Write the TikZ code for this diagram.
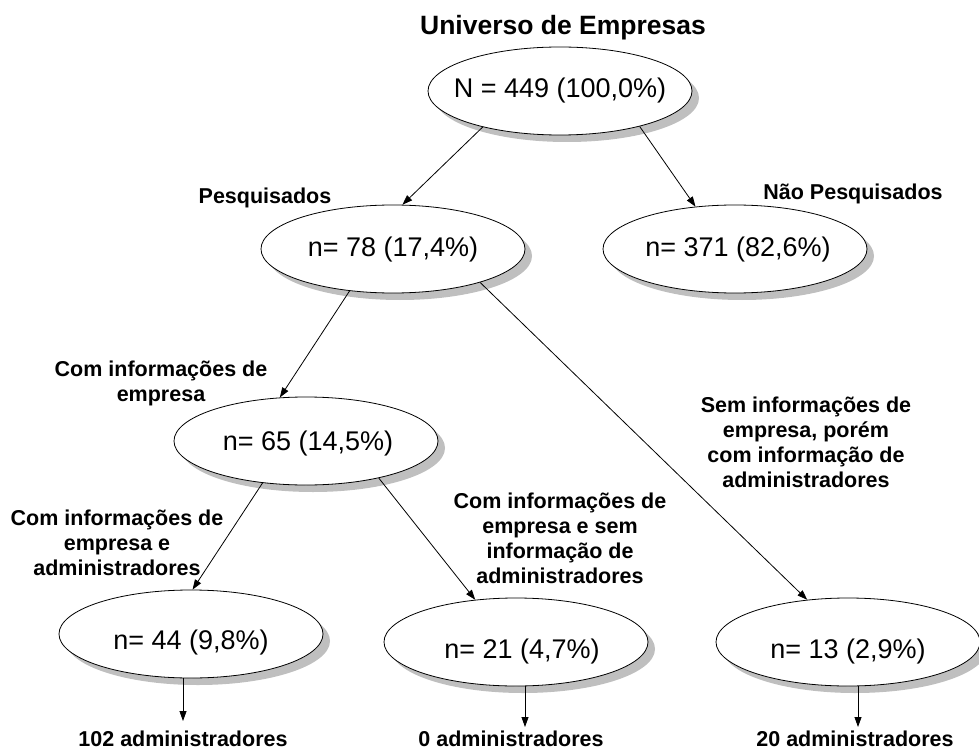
\documentclass[tikz,border=0pt]{standalone}
\usepackage{fontspec}
\setmainfont{Liberation Sans}
\usetikzlibrary{shapes.geometric,shadows,arrows.meta}
\newcommand{\etext}[2][-7pt]{\raisebox{#1}[0pt][0pt]{\makebox[0pt]{#2}}}
\begin{document}
\begin{tikzpicture}[x=1pt,y=-1pt,
  ell/.style={ellipse, draw=black, line width=0.8pt, fill=white,
    minimum width=264pt, minimum height=88pt, inner sep=0pt,
    font=\fontsize{27}{30}\selectfont,
    drop shadow={shadow xshift=7pt, shadow yshift=-7pt, fill=black!25, opacity=1}},
  lab/.style={font=\fontsize{21.5}{25}\selectfont\bfseries, align=center, inner sep=0pt},
  con/.style={line width=0.8pt, -{Triangle[length=10pt,width=7pt]}},
]
\useasboundingbox (0,0) rectangle (979,751);

\node[font=\fontsize{26.5}{30}\selectfont\bfseries, anchor=base, inner sep=0pt] (title) at (563,35) {Universo de Empresas};

\node[ell] (top) at (560,91) {\etext{N = 449 (100,0\%)}};
\node[ell] (pes) at (393,249) {\etext{n= 78 (17,4\%)}};
\node[ell] (nao) at (735,249) {\etext{\hspace{6pt}n= 371 (82,6\%)}};
\node[ell] (e65) at (306,441) {\etext[-9pt]{\hspace{4pt}n= 65 (14,5\%)}};
\node[ell] (e44) at (191,634) {\etext[-15pt]{n= 44 (9,8\%)}};
\node[ell] (e21) at (516,642) {\etext[-16pt]{\hspace{12pt}n= 21 (4,7\%)}};
\node[ell] (e13) at (848,642) {\etext[-16pt]{n= 13 (2,9\%)}};

\node[lab, anchor=base] (lpes) at (265,204) {Pesquisados};
\node[lab, anchor=base] (lnao) at (853,200) {Não Pesquisados};
\node[lab] (l1) at (161,383) {Com informações de\\empresa};
\node[lab] (l2) at (117,543) {Com informações de\\empresa e\\administradores};
\node[lab] (l3) at (560,538) {Com informações de\\empresa e sem\\informação de\\administradores};
\node[lab] (l4) at (806,442) {Sem informações de\\empresa, porém\\com informação de\\administradores};

\node[lab] (b44) at (183,739) {102 administradores};
\node[lab] (b21) at (511,739) {0 administradores};
\node[lab] (b13) at (855,739) {20 administradores};
\coordinate (t44) at (183,721);
\coordinate (t21) at (525,727);
\coordinate (t13) at (858,727);

\draw[con] (top.205) -- (pes.78);
\draw[con] (top.336) -- (nao.133);
\draw[con] (pes.224) -- (e65.121);
\draw[con] (pes.339) -- (e13.134);
\draw[con] (e65.224) -- (e44.88);
\draw[con] (e65.333) -- (e21.134);
\draw[con] (t44 |- e44.south) -- (t44);
\draw[con] (t21 |- e21.south) -- (t21);
\draw[con] (t13 |- e13.south) -- (t13);
\end{tikzpicture}
\end{document}
